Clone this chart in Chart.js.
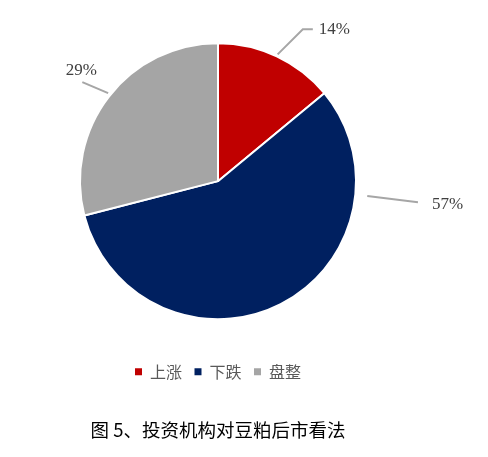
<!DOCTYPE html>
<html>
<head>
<meta charset="utf-8">
<script src="https://cdn.jsdelivr.net/npm/chart.js@4.4.1/dist/chart.umd.min.js"></script>
<style>
  html, body { margin: 0; padding: 0; background: #fff; }
  #wrap { position: relative; width: 488px; height: 457px; }
</style>
</head>
<body>
<div id="wrap"><canvas id="pieChart"></canvas></div>
<script>
// data
const categories = ['上涨', '下跌', '盘整'];
const shares = [14, 57, 29];
const sliceColors = ['#C00000', '#002060', '#A5A5A5'];
const chartTitle = '图 5、投资机构对豆粕后市看法';

// leader lines: polar points (deg clockwise from top, fraction of radius)
const leaders = [
  { pts: [[25.2, 1.015], [29.2, 1.26]], tail: 10, text: { dx: 6, dy: 0, align: 'left' } },
  { pts: [[95.7, 1.087], [96.0, 1.457]], tail: 0, text: { dx: 14, dy: 2, align: 'left' } },
  { pts: [[-51.3, 1.02], [-53.9, 1.217]], tail: 0, text: { dx: -1, dy: -12, align: 'center' } }
];

const leaderPlugin = {
  id: 'leaderLabels',
  afterDatasetsDraw(chart) {
    const ctx = chart.ctx;
    const meta = chart.getDatasetMeta(0);
    meta.data.forEach((arc, i) => {
      const cfg = leaders[i];
      const r = arc.outerRadius;
      const pts = cfg.pts.map(([deg, f]) => {
        const a = deg * Math.PI / 180;
        return [arc.x + Math.sin(a) * r * f, arc.y - Math.cos(a) * r * f];
      });
      let end = pts[pts.length - 1];
      if (cfg.tail) { end = [end[0] + cfg.tail, end[1]]; pts.push(end); }
      ctx.save();
      ctx.strokeStyle = '#A6A6A6';
      ctx.lineWidth = 2;
      ctx.beginPath();
      pts.forEach((p, k) => k ? ctx.lineTo(p[0], p[1]) : ctx.moveTo(p[0], p[1]));
      ctx.stroke();
      ctx.fillStyle = '#404040';
      ctx.font = '17px "Liberation Serif", "Times New Roman", serif';
      ctx.textAlign = cfg.text.align;
      ctx.textBaseline = 'middle';
      ctx.fillText(shares[i] + '%', end[0] + cfg.text.dx, end[1] + cfg.text.dy);
      ctx.restore();
    });
  }
};

new Chart(document.getElementById('pieChart'), {
  type: 'pie',
  data: {
    labels: categories,
    datasets: [{
      data: shares,
      backgroundColor: sliceColors,
      borderColor: '#FFFFFF',
      borderWidth: 2
    }]
  },
  options: {
    responsive: true,
    maintainAspectRatio: false,
    animation: false,
    // pie is width-limited; top padding just sets the vertical centre
    layout: { padding: { left: 79, right: 131, top: 11, bottom: 0 } },
    plugins: {
      tooltip: { enabled: false },
      legend: {
        position: 'bottom',
        labels: {
          boxWidth: 7,
          boxHeight: 7,
          padding: 12.5,
          color: '#595959',
          font: { family: '"Noto Sans CJK SC", sans-serif', size: 16 },
          // no white border on the legend squares
          generateLabels(chart) {
            return Chart.overrides.pie.plugins.legend.labels.generateLabels(chart)
              .map(item => Object.assign(item, { lineWidth: 0, strokeStyle: item.fillStyle }));
          }
        }
      },
      title: {
        display: true,
        position: 'bottom',
        text: chartTitle,
        color: '#000000',
        font: { family: '"Noto Sans CJK SC", sans-serif', size: 18.5, weight: 'normal' },
        padding: { top: 29, bottom: 16 }
      }
    }
  },
  plugins: [leaderPlugin]
});
</script>
</body>
</html>
